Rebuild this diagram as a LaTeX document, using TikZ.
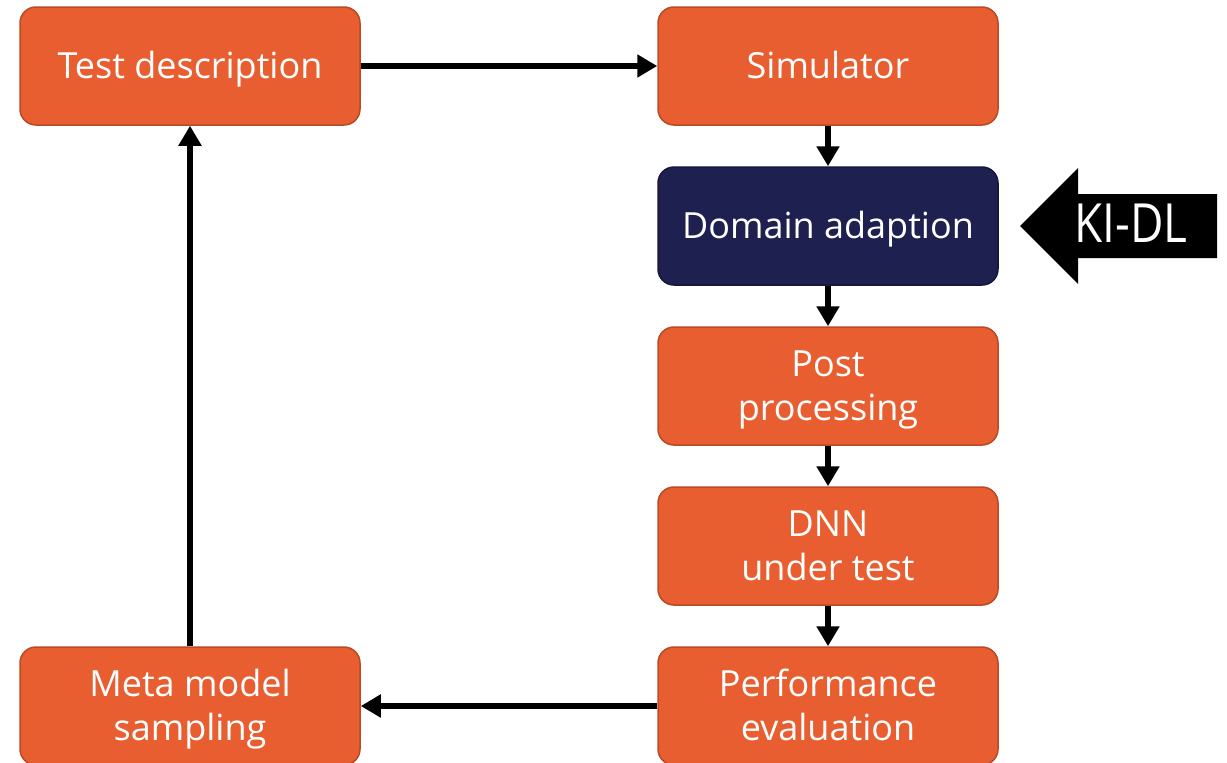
\documentclass[tikz,border=0pt]{standalone}
\usepackage{fontspec}
\setmainfont{Open Sans}
\usetikzlibrary{arrows.meta}
\definecolor{boxorange}{HTML}{E85E30}
\definecolor{boxedge}{HTML}{B94A26}
\definecolor{navy}{HTML}{1E2150}
\definecolor{navyedge}{HTML}{14163A}
\begin{document}
\begin{tikzpicture}[x=1pt,y=-1pt,
  stage/.style={draw=boxedge, fill=boxorange, line width=1.5pt, rounded corners=16pt,
    minimum width=340pt, minimum height=118pt, inner sep=0pt, align=center,
    text=white, font=\fontsize{36}{44}\selectfont, text height=25.7pt, text depth=0pt},
  twoline/.style={text height=69.7pt},
  darkstage/.style={stage, draw=navyedge, fill=navy},
  flow/.style={line width=6pt, -{Triangle[length=20pt,width=22pt]}}]
\useasboundingbox (0,0) rectangle (1227,763);
\clip (0,0) rectangle (1227,763);
% stages of the loop
\node[stage] (test) at (190,66) {Test description};
\node[stage] (sim) at (828,66) {Simulator};
\node[darkstage] (dom) at (828,226) {Domain adaption};
\node[stage, twoline] (post) at (828,386) {Post\\processing};
\node[stage, twoline] (dnn) at (828,546) {DNN\\under test};
\node[stage, twoline] (perf) at (828,706) {Performance\\evaluation};
\node[stage, twoline] (meta) at (190,706) {Meta model\\sampling};
% connectors
\draw[flow] (test.east) -- (sim.west);
\draw[flow] (sim.south) -- (dom.north);
\draw[flow] (dom.south) -- (post.north);
\draw[flow] (post.south) -- (dnn.north);
\draw[flow] (dnn.south) -- (perf.north);
\draw[flow] (perf.west) -- (meta.east);
\draw[flow] (meta.north) -- (test.south);
% external input block arrow
\fill[black] (1020,226) -- (1078,168) -- (1078,194) -- (1217,194) -- (1217,258)
  -- (1078,258) -- (1078,284) -- cycle;
\node[text=white, font=\fontsize{54}{60}\selectfont, inner sep=0pt,
  text height=38.6pt, text depth=0pt] (kidl) at (1131,223) {\scalebox{0.85}[1]{KI-DL}};
\end{tikzpicture}
\end{document}
